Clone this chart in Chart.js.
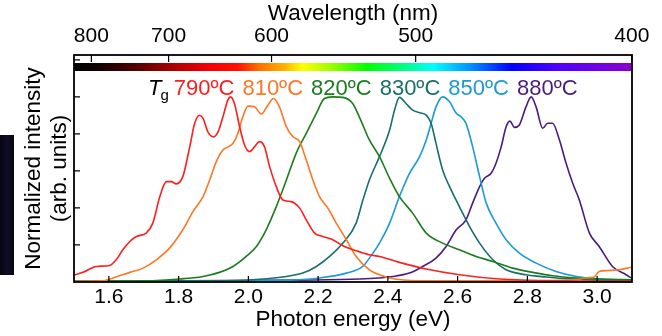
<!DOCTYPE html>
<html><head><meta charset="utf-8">
<script src="https://cdn.jsdelivr.net/npm/chart.js@4.4.1/dist/chart.umd.min.js"></script>
<style>
html,body{margin:0;padding:0;background:#fff;overflow:hidden;}
#wrap{position:relative;width:662px;height:336px;}
#side{position:absolute;left:0;top:135px;width:14px;height:140px;background:linear-gradient(90deg,#060510,#100d2a 55%,#07060f);}
canvas{position:absolute;left:0;top:0;}
</style></head><body>
<div id="wrap"><div id="side"></div><canvas id="c" width="662" height="336"></canvas></div>
<script>
// ---- data ----
const energyTicks = [1.6, 1.8, 2.0, 2.2, 2.4, 2.6, 2.8, 3.0];
const wavelengthTicks = [800, 700, 600, 500, 400];
const intensityTicks = [0.2, 0.4, 0.6, 0.8, 1.0, 1.2];
const seriesLabels = ['790ºC', '810ºC', '820ºC', '830ºC', '850ºC', '880ºC'];

const e790 = [1.50,1.526,1.564,1.602,1.621,1.640,1.660,1.679,1.707,1.726,1.746,1.765,1.779,1.793,1.812,1.832,1.846,1.860,1.870,1.884,1.900,1.913,1.927,1.941,1.949,1.960,1.975,1.989,2.003,2.018,2.032,2.046,2.061,2.080,2.099,2.123,2.147,2.166,2.190,2.213,2.242,2.271,2.309,2.347,2.376,2.433,2.510,2.605,2.720,2.900,3.100];
const i790 = [0.037,0.052,0.084,0.089,0.120,0.174,0.219,0.246,0.264,0.318,0.461,0.542,0.542,0.530,0.569,0.731,0.857,0.901,0.884,0.811,0.784,0.811,0.892,0.982,1.000,0.964,0.838,0.740,0.704,0.731,0.758,0.731,0.623,0.515,0.443,0.434,0.399,0.336,0.264,0.246,0.228,0.196,0.169,0.147,0.138,0.106,0.070,0.039,0.016,0.006,0.004];

const e810 = [1.50,1.580,1.612,1.660,1.698,1.736,1.774,1.812,1.841,1.870,1.889,1.908,1.927,1.956,1.970,1.984,1.999,2.018,2.037,2.056,2.072,2.089,2.109,2.128,2.147,2.166,2.185,2.204,2.228,2.252,2.281,2.309,2.347,2.376,2.405,2.490,2.700,2.940,2.968,2.990,3.006,3.030,3.064,3.098];
const i810 = [0.004,0.006,0.022,0.052,0.075,0.120,0.183,0.282,0.380,0.461,0.551,0.650,0.713,0.749,0.803,0.892,0.950,0.946,0.907,0.955,0.991,0.946,0.838,0.784,0.758,0.659,0.551,0.461,0.399,0.318,0.228,0.138,0.066,0.039,0.022,0.007,0.006,0.012,0.022,0.025,0.057,0.062,0.066,0.080];

const e820 = [1.50,1.700,1.803,1.870,1.917,1.956,1.994,2.023,2.051,2.080,2.109,2.137,2.166,2.195,2.218,2.242,2.271,2.299,2.319,2.347,2.376,2.405,2.433,2.471,2.510,2.557,2.605,2.653,2.701,2.758,2.815,2.872,2.940,3.006,3.100];
const i820 = [0.004,0.006,0.016,0.030,0.052,0.084,0.138,0.192,0.282,0.407,0.551,0.695,0.803,0.911,0.991,1.000,0.997,0.964,0.888,0.767,0.677,0.560,0.461,0.372,0.264,0.210,0.174,0.138,0.111,0.075,0.052,0.034,0.022,0.016,0.012];

const e830 = [1.50,1.900,2.032,2.109,2.156,2.195,2.233,2.271,2.309,2.328,2.347,2.376,2.405,2.419,2.433,2.452,2.471,2.491,2.510,2.524,2.538,2.557,2.577,2.605,2.634,2.663,2.701,2.739,2.796,2.854,2.930,3.006,3.100];
const i830 = [0.004,0.006,0.015,0.030,0.048,0.084,0.138,0.210,0.318,0.440,0.551,0.677,0.821,0.928,0.997,0.964,0.928,0.914,0.901,0.857,0.749,0.605,0.515,0.407,0.300,0.210,0.120,0.066,0.039,0.027,0.016,0.010,0.008];

const e850 = [1.50,2.000,2.118,2.204,2.281,2.328,2.347,2.376,2.405,2.433,2.462,2.491,2.510,2.524,2.538,2.557,2.577,2.596,2.610,2.624,2.643,2.663,2.682,2.710,2.739,2.777,2.825,2.882,2.940,2.987,3.064,3.100];
const i850 = [0.004,0.006,0.010,0.022,0.048,0.084,0.129,0.210,0.318,0.461,0.587,0.677,0.767,0.857,0.946,1.000,0.973,0.911,0.892,0.857,0.731,0.569,0.426,0.318,0.228,0.156,0.102,0.057,0.030,0.019,0.012,0.010];

const e880 = [1.50,2.147,2.319,2.414,2.462,2.500,2.538,2.567,2.596,2.624,2.643,2.663,2.677,2.696,2.710,2.725,2.739,2.750,2.763,2.777,2.796,2.811,2.825,2.844,2.858,2.872,2.892,2.911,2.930,2.949,2.978,3.006,3.044,3.083,3.097];
const i880 = [0.004,0.010,0.016,0.030,0.048,0.084,0.129,0.192,0.282,0.336,0.426,0.515,0.560,0.587,0.641,0.731,0.838,0.869,0.835,0.848,0.946,1.000,0.946,0.830,0.857,0.857,0.767,0.641,0.533,0.443,0.264,0.192,0.084,0.039,0.022];

// ---- styles ----
const seriesColors = ['#ff1e1e', '#ff7624', '#1b7c1e', '#166f6c', '#1c9ad6', '#4a1c7e'];
const spectrumNm  = [826, 790, 740, 700, 660, 630, 610, 590, 575, 555, 530, 505, 490, 470, 450, 430, 400];
const spectrumCol = ['#000000','#120000','#500000','#a00000','#f00000','#ff1000','#ff7000','#ffb000','#ffff00','#a0ff00','#00ff00','#00ff90','#00ffff','#0090ff','#0000ff','#5000ff','#8a00cc'];
const HC = 1239.84;
const FONT = '"Liberation Sans", Arial, sans-serif';

const series = [[e790,i790],[e810,i810],[e820,i820],[e830,i830],[e850,i850],[e880,i880]];
const datasets = series.map((s, k) => ({
  label: seriesLabels[k],
  data: s[0].map((x, j) => ({x: x, y: s[1][j]})),
  borderColor: seriesColors[k],
  borderWidth: 1.6,
  pointRadius: 0,
  cubicInterpolationMode: 'monotone',
  fill: false
}));

const decor = {
  id: 'decor',
  beforeDatasetsDraw(chart) {
    const {ctx, chartArea: a, scales} = chart;
    const xs = scales.x;
    const g = ctx.createLinearGradient(a.left, 0, a.right, 0);
    spectrumNm.forEach((nm, k) => {
      let f = (xs.getPixelForValue(HC / nm) - a.left) / (a.right - a.left);
      f = Math.min(1, Math.max(0, f));
      g.addColorStop(f, spectrumCol[k]);
    });
    ctx.save();
    ctx.fillStyle = g;
    ctx.fillRect(a.left, a.top + 8, a.right - a.left, 8);
    ctx.restore();
  },
  afterDatasetsDraw(chart) {
    const {ctx, chartArea: a, scales} = chart;
    ctx.save();
    ctx.strokeStyle = '#000';
    ctx.lineWidth = 1.2;
    ctx.beginPath();
    energyTicks.forEach(v => {
      const p = scales.x.getPixelForValue(v);
      ctx.moveTo(p, a.bottom); ctx.lineTo(p, a.bottom - 6);
    });
    wavelengthTicks.forEach(w => {
      const p = scales.x2.getPixelForValue(HC / w);
      ctx.moveTo(p, a.top); ctx.lineTo(p, a.top + 7);
    });
    intensityTicks.forEach(v => {
      const p = scales.y.getPixelForValue(v);
      ctx.moveTo(a.left, p); ctx.lineTo(a.left + 6, p);
    });
    ctx.stroke();
    ctx.lineWidth = 1.8;
    ctx.strokeRect(a.left, a.top, a.right - a.left, a.bottom - a.top);
    // legend
    let x = a.left + 74;
    const base = a.top + 40;
    ctx.textBaseline = 'alphabetic';
    ctx.textAlign = 'left';
    ctx.fillStyle = '#000';
    ctx.font = 'italic 22px ' + FONT;
    ctx.fillText('T', x, base);
    x += ctx.measureText('T').width - 1;
    ctx.font = '15px ' + FONT;
    ctx.fillText('g', x, base + 5);
    x += ctx.measureText('g').width + 5;
    ctx.font = '22px ' + FONT;
    seriesLabels.forEach((t, k) => {
      ctx.fillStyle = seriesColors[k];
      ctx.fillText(t, x, base);
      x += ctx.measureText(t).width + 8;
    });
    ctx.restore();
  }
};

new Chart(document.getElementById('c'), {
  type: 'line',
  data: {datasets},
  options: {
    responsive: false,
    animation: false,
    devicePixelRatio: 1,
    layout: {padding: {left: 0, right: 30, top: 0, bottom: 0}},
    plugins: {legend: {display: false}, tooltip: {enabled: false}},
    scales: {
      x: {
        type: 'linear', position: 'bottom', min: 1.5, max: 3.1,
        grid: {display: false, drawTicks: false}, border: {display: false},
        afterBuildTicks: s => { s.ticks = energyTicks.map(v => ({value: v})); },
        afterFit: s => { s.height = 54; s.paddingLeft = 0; s.paddingRight = 0; },
        ticks: {autoSkip: false, maxRotation: 0, padding: 3, color: '#000',
                font: {family: FONT, size: 21}, callback: v => Number(v).toFixed(1)},
        title: {display: true, text: 'Photon energy (eV)', color: '#000',
                font: {family: FONT, size: 22.5, lineHeight: 1.15}, padding: {top: 0, bottom: 3}}
      },
      x2: {
        type: 'linear', position: 'top', min: 1.5, max: 3.1,
        grid: {display: false, drawTicks: false}, border: {display: false},
        afterBuildTicks: s => { s.ticks = wavelengthTicks.map(w => ({value: HC / w})); },
        afterFit: s => { s.height = 55; s.paddingLeft = 0; s.paddingRight = 0; },
        ticks: {autoSkip: false, maxRotation: 0, padding: 6, color: '#000',
                font: {family: FONT, size: 21}, callback: v => String(Math.round(HC / v))},
        title: {display: true, text: 'Wavelength (nm)', color: '#000',
                font: {family: FONT, size: 22.5, lineHeight: 1.15}, padding: {top: 1, bottom: 0}}
      },
      y: {
        type: 'linear', position: 'left', min: 0, max: 1.226,
        grid: {display: false, drawTicks: false}, border: {display: false},
        afterBuildTicks: s => { s.ticks = intensityTicks.map(v => ({value: v})); },
        afterFit: s => { s.width = 74; s.paddingTop = 0; s.paddingBottom = 0; },
        ticks: {display: false},
        title: {display: true, text: ['Normalized intensity', '(arb. units)'], color: '#000',
                font: {family: FONT, size: 22.5, lineHeight: 1.15}, padding: {top: 21, bottom: 0}}
      }
    }
  },
  plugins: [decor]
});
</script>
</body></html>
